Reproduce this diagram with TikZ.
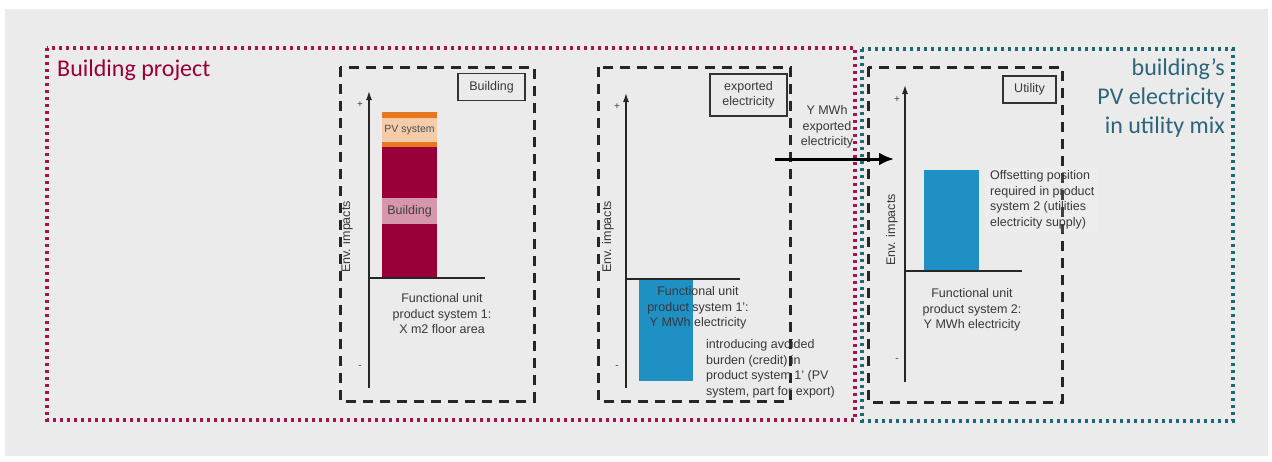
\documentclass[tikz,border=0pt]{standalone}
\usepackage{fontspec}
\setmainfont{Liberation Sans}
\newfontfamily\calib{Carlito}
\usetikzlibrary{arrows.meta}

\definecolor{bggrey}{RGB}{235,235,235}
\definecolor{crimson}{RGB}{153,0,58}
\definecolor{bandpink}{RGB}{214,150,172}
\definecolor{pvorange}{RGB}{232,120,30}
\definecolor{pvpeach}{RGB}{244,204,170}
\definecolor{barblue}{RGB}{30,144,196}
\definecolor{projred}{RGB}{165,20,75}
\definecolor{mixteal}{RGB}{30,105,118}
\definecolor{titleteal}{RGB}{44,100,122}

\tikzset{
	txt/.style={font=\fontsize{12.5}{15.5}\selectfont, text=black!78, inner sep=1pt},
	labelbox/.style={draw=black!80, line width=1.8pt, fill=bggrey, txt, minimum height=27pt, align=center},
	systembox/.style={draw=black!85, line width=3pt, dash pattern=on 10pt off 7pt},
	projbox/.style={draw=projred, line width=3.4pt, dash pattern=on 3pt off 4pt},
	mixbox/.style={draw=mixteal, line width=3.4pt, dash pattern=on 3pt off 4pt},
	axis/.style={draw=black!85, line width=1.4pt},
	sign/.style={font=\fontsize{10}{10}\selectfont, text=black!75, inner sep=0pt}
}

\begin{document}
\begin{tikzpicture}[x=1pt, y=-1pt]
	\useasboundingbox (0,0) rectangle (1272,461);
	\fill[white] (0,0) rectangle (1272,461);
	\fill[bggrey] (5,9) rectangle (1268,456);

	% outer scopes
	\draw[projbox] (47,48) rectangle (855,420);
	\draw[mixbox] (862,49) rectangle (1233,421);
	\node[anchor=west, inner sep=0pt, font=\calib\fontsize{24}{29}\selectfont, text=crimson] (projtitle) at (57,70) {Building project};
	\node[anchor=east, inner sep=0pt, align=right, font=\calib\fontsize{24}{29}\selectfont, text=titleteal] (mixtitle) at (1225,98) {building’s\\PV electricity\\in utility mix};

	% product system boxes
	\draw[systembox] (340,67) rectangle (534,401);
	\draw[systembox] (598,67) rectangle (790,401);
	\draw[systembox] (868,67) rectangle (1062,402);

	\node[labelbox, minimum width=67pt] (bldlabel) at (491.5,87) {Building};
	\node[labelbox, minimum width=77pt, minimum height=42pt] (explabel) at (748.5,95) {exported\\electricity};
	\node[labelbox, minimum width=53pt] (utillabel) at (1029.5,89.5) {Utility};

	% chart 1: building
	\coordinate (ax1top) at (369,91);
	\coordinate (ax1bot) at (369,388);
	\coordinate (ax1o) at (369,278);
	\coordinate (ax1end) at (485,278);
	\fill[crimson] (382,147) rectangle (437,278);
	\fill[bandpink] (382,198) rectangle (437,224);
	\fill[pvorange] (382,112) rectangle (437,147);
	\fill[pvpeach] (382,118) rectangle (437,142);
	\node[txt, font=\fontsize{10.5}{12}\selectfont, text=black!70] (pvtxt) at (409.5,130) {PV system};
	\node[txt, text=black!75] (bldtxt) at (409.5,211) {Building};
	\draw[axis, -{Latex[length=9pt,width=6pt]}] (ax1bot) -- (ax1top);
	\draw[axis] (ax1o) -- (ax1end);
	\node[sign] (plus1) at (360,105) {+};
	\node[sign] (minus1) at (360,367) {-};
	\node[txt, rotate=90] (env1) at (347,237) {Env. impacts};
	\node[txt, align=center] (fu1) at (442,314) {Functional unit\\product system 1:\\X m2 floor area};

	% chart 2: exported electricity
	\coordinate (ax2top) at (626,93);
	\coordinate (ax2bot) at (626,388);
	\coordinate (ax2o) at (626,279);
	\coordinate (ax2end) at (740,279);
	\fill[barblue] (639,279) rectangle (693,381);
	\draw[axis, -{Latex[length=9pt,width=6pt]}] (ax2bot) -- (ax2top);
	\draw[axis] (ax2o) -- (ax2end);
	\node[sign] (plus2) at (617,107) {+};
	\node[sign] (minus2) at (617,367) {-};
	\node[txt, rotate=90] (env2) at (608,237) {Env. impacts};
	\node[txt, align=center] (fu2) at (698,308) {Functional unit\\product system 1':\\Y MWh electricity};
	\node[txt, anchor=west, align=left] (credit) at (705,369) {introducing avoided\\burden (credit) in\\product system 1' (PV\\system, part for export)};

	% export flow
	\coordinate (flowstart) at (775,159);
	\coordinate (flowend) at (894,159);
	\draw[line width=3pt, -{Latex[length=15pt,width=13pt]}] (flowstart) -- (flowend);
	\node[txt, align=center] (flowtxt) at (827,127) {Y MWh\\exported\\electricity};

	% chart 3: utility
	\coordinate (ax3top) at (905,85);
	\coordinate (ax3bot) at (905,382);
	\coordinate (ax3o) at (905,271);
	\coordinate (ax3end) at (1022,271);
	\fill[barblue] (924,170) rectangle (979,271);
	\draw[axis, -{Latex[length=9pt,width=6pt]}] (ax3bot) -- (ax3top);
	\draw[axis] (ax3o) -- (ax3end);
	\node[sign] (plus3) at (897,100) {+};
	\node[sign] (minus3) at (897,360) {-};
	\node[txt, rotate=90] (env3) at (892,230) {Env. impacts};
	\node[txt, align=center] (fu3) at (972,310) {Functional unit\\product system 2:\\Y MWh electricity};
	\node[txt, anchor=west, align=left, fill=white, fill opacity=0.12, text opacity=1, inner sep=4pt] (offset) at (986,200) {Offsetting position\\required in product\\system 2 (utilities\\electricity supply)};
\end{tikzpicture}
\end{document}
